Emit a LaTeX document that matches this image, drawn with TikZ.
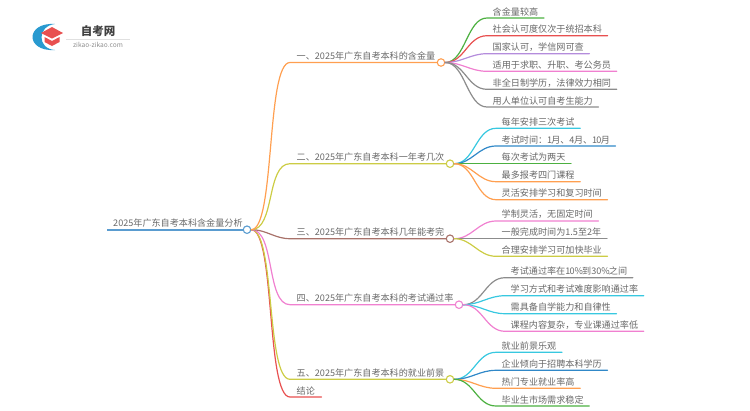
\documentclass[tikz,border=0pt]{standalone}
\usepackage{fontspec}
\setmainfont{Noto Sans CJK SC}
\definecolor{cOrange}{HTML}{FF9F50}
\definecolor{cOlive}{HTML}{CCCC44}
\definecolor{cBrown}{HTML}{A8726A}
\definecolor{cPink}{HTML}{F080D0}
\definecolor{cRed}{HTML}{E85050}
\definecolor{cGreen}{HTML}{4CB040}
\definecolor{cPurple}{HTML}{B48CDC}
\definecolor{cGray}{HTML}{8C8C8C}
\definecolor{cCyan}{HTML}{38C8E0}
\definecolor{cBlue}{HTML}{3088C8}
\definecolor{cRoot}{HTML}{5A9CD0}
\definecolor{cText}{HTML}{686868}
\tikzset{
	label/.style={anchor=south west,inner xsep=0pt,inner ysep=2pt,text=cText,font=\fontsize{9.1}{10}\selectfont},
	root/.style={label,inner xsep=6pt},
	branch/.style={label,inner xsep=6.5pt},
	leaf/.style={label,inner xsep=5.5pt},
	dot/.style={circle,draw=#1,fill=white,line width=1.1pt,minimum size=7.5pt,inner sep=0pt},
	link/.style={line width=1.2pt,line cap=round,out=0,in=180,max distance=24pt},
	sub/.style={line width=1.2pt,line cap=round,out=0,in=180,max distance=20pt}
}
\begin{document}
\begin{tikzpicture}[x=1pt,y=-1pt]
	\useasboundingbox (0,0) rectangle (750,410);
	% logo
	\fill[cBlue!85!cyan] (55,24) .. controls (25,22) and (25,52) .. (55,50) .. controls (37,49) and (37,26) .. (55,24);
	\fill[cRed] (41,33)--(52,27)--(63,33)--(52,38.5)--cycle;
	\fill[cRed] (44.5,37)--(52,41)--(59.5,37)--(59.5,42)--(52,46)--(44.5,42)--cycle;
	\node[font=\bfseries\fontsize{11.5}{12}\selectfont,text=black!75] (logotitle) at (98,31) {自考网};
	\node[font=\fontsize{6.6}{7}\selectfont,text=cGray] (logourl) at (98,45) {zikao-zikao.com};
	\draw[black!12,line width=0.5pt] (66,39)--(130,39);
	% root
	\node[root] (rt) at (107,229.7) {2025年广东自考本科含金量分析};
	\node[dot=cRoot] (rtdot) at (247,229.7) {};
	% branches
	\node[branch] (b1) at (290,62.5) {一、2025年广东自考本科的含金量};
	\node[branch] (b2) at (290,163.7) {二、2025年广东自考本科一年考几次};
	\node[branch] (b3) at (290,238.7) {三、2025年广东自考本科几年能考完};
	\node[branch] (b4) at (290,304.7) {四、2025年广东自考本科的考试通过率};
	\node[branch] (b5) at (290,379.3) {五、2025年广东自考本科的就业前景};
	\node[branch] (b6) at (290,397) {结论};
	\node[dot=cOrange] (d1) at (441,62.5) {};
	\node[dot=cOlive] (d2) at (450,163.7) {};
	\node[dot=cBrown] (d3) at (450,238.7) {};
	\node[dot=cPink] (d4) at (459,304.7) {};
	\node[dot=cOlive] (d5) at (450,379.3) {};
	% leaves
	\node[leaf] (l11) at (487,18) {含金量较高};
	\node[leaf] (l12) at (487,35.7) {社会认可度仅次于统招本科};
	\node[leaf] (l13) at (487,53.7) {国家认可，学信网可查};
	\node[leaf] (l14) at (487,71.3) {适用于求职、升职、考公务员};
	\node[leaf] (l15) at (487,89.3) {非全日制学历，法律效力相同};
	\node[leaf] (l16) at (487,107) {用人单位认可自考生能力};
	\node[leaf] (l21) at (496,128.3) {每年安排三次考试};
	\node[leaf] (l22) at (496,146) {考试时间：1\kern-1pt 月、4\kern-.5pt 月、1\kern-1pt 0\kern-.5pt 月};
	\node[leaf] (l23) at (496,163.7) {每次考试为两天};
	\node[leaf] (l24) at (496,181.7) {最多报考四门课程};
	\node[leaf] (l25) at (496,199.7) {灵活安排学习和复习时间};
	\node[leaf] (l31) at (496,221) {学制灵活，无固定时间};
	\node[leaf] (l32) at (496,238.7) {一般完成时间为1.5至2年};
	\node[leaf] (l33) at (496,256.3) {合理安排学习可加快毕业};
	\node[leaf] (l41) at (505,277.7) {考试通过率在1\kern-.8pt 0\%\kern-.8pt 到30\%\kern-.8pt 之间};
	\node[leaf] (l42) at (505,295.7) {学习方式和考试难度影响通过率};
	\node[leaf] (l43) at (505,313.7) {需具备自学能力和自律性};
	\node[leaf] (l44) at (505,331.3) {课程内容复杂，专业课通过率低};
	\node[leaf] (l51) at (496,352.3) {就业前景乐观};
	\node[leaf] (l52) at (496,370.3) {企业倾向于招聘本科学历};
	\node[leaf] (l53) at (496,388.3) {热门专业就业率高};
	\node[leaf] (l54) at (496,406) {毕业生市场需求稳定};
	% connectors
	\draw[line width=2pt,cRoot] (rt.south west)--(rtdot.west);
	\draw[link,cRed] (rtdot.east) to (b6.south west) -- (b6.south east);
	\draw[link,cOlive] (rtdot.east) to (b5.south west) -- (d5.west);
	\draw[link,cPink] (rtdot.east) to (b4.south west) -- (d4.west);
	\draw[link,cBrown] (rtdot.east) to (b3.south west) -- (d3.west);
	\draw[link,cOlive] (rtdot.east) to (b2.south west) -- (d2.west);
	\draw[link,cOrange] (rtdot.east) to (b1.south west) -- (d1.west);
	\draw[sub,cGreen] (d1.east) to (l11.south west) -- (l11.south east);
	\draw[sub,cRed] (d1.east) to (l12.south west) -- (l12.south east);
	\draw[sub,cPurple] (d1.east) to (l13.south west) -- (l13.south east);
	\draw[sub,cPink] (d1.east) to (l14.south west) -- (l14.south east);
	\draw[sub,cGray] (d1.east) to (l15.south west) -- (l15.south east);
	\draw[sub,cGray] (d1.east) to (l16.south west) -- (l16.south east);
	\draw[sub,cCyan] (d2.east) to (l21.south west) -- (l21.south east);
	\draw[sub,cBlue] (d2.east) to (l22.south west) -- (l22.south east);
	\draw[sub,cGreen] (d2.east) to (l23.south west) -- (l23.south east);
	\draw[sub,cOrange] (d2.east) to (l24.south west) -- (l24.south east);
	\draw[sub,cOrange] (d2.east) to (l25.south west) -- (l25.south east);
	\draw[sub,cPink] (d3.east) to (l31.south west) -- (l31.south east);
	\draw[sub,cGray] (d3.east) to (l32.south west) -- (l32.south east);
	\draw[sub,cOlive] (d3.east) to (l33.south west) -- (l33.south east);
	\draw[sub,cGray] (d4.east) to (l41.south west) -- (l41.south east);
	\draw[sub,cCyan] (d4.east) to (l42.south west) -- (l42.south east);
	\draw[sub,cCyan] (d4.east) to (l43.south west) -- (l43.south east);
	\draw[sub,cPink] (d4.east) to (l44.south west) -- (l44.south east);
	\draw[sub,cCyan] (d5.east) to (l51.south west) -- (l51.south east);
	\draw[sub,cBlue] (d5.east) to (l52.south west) -- (l52.south east);
	\draw[sub,cOrange] (d5.east) to (l53.south west) -- (l53.south east);
	\draw[sub,cGreen] (d5.east) to (l54.south west) -- (l54.south east);
\end{tikzpicture}
\end{document}
